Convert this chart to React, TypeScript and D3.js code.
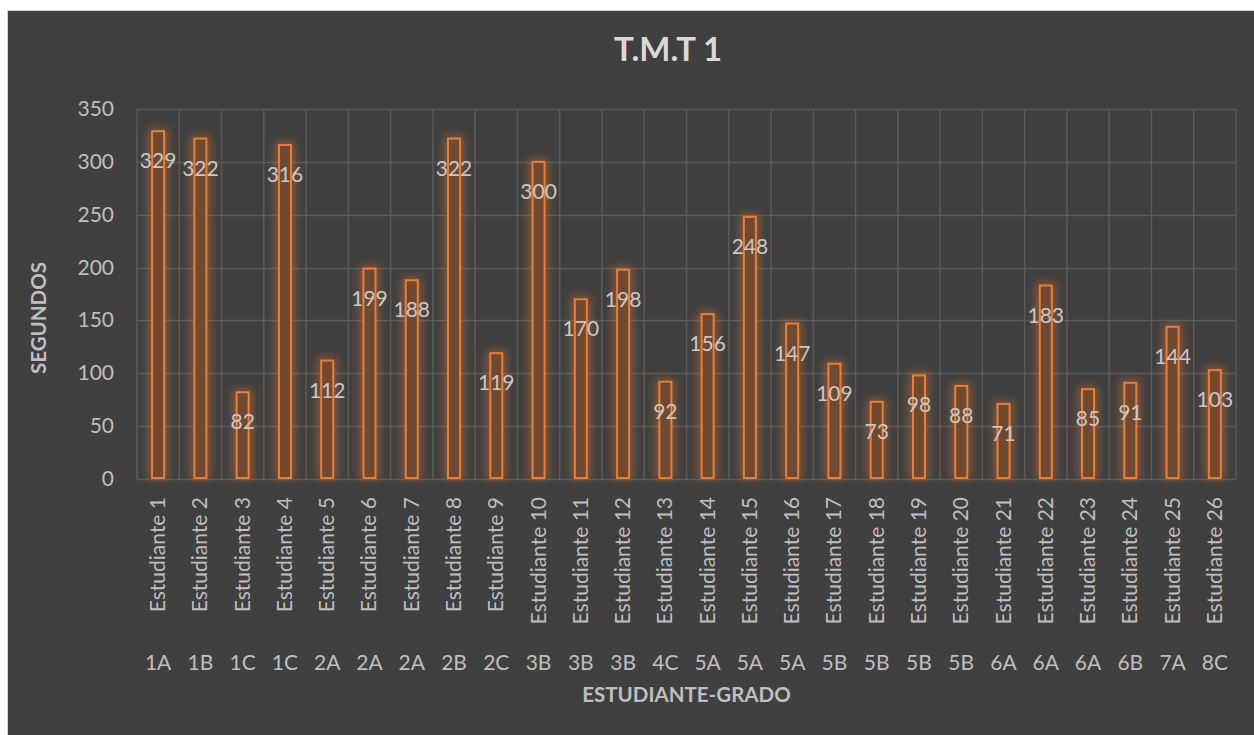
import * as React from 'react'
import { useEffect, useRef } from 'react'
import * as d3 from 'd3'

const estudiantes = Array.from({ length: 26 }, (_, i) => `Estudiante ${i + 1}`)
const grados = ['1A', '1B', '1C', '1C', '2A', '2A', '2A', '2B', '2C', '3B', '3B', '3B', '4C',
  '5A', '5A', '5A', '5B', '5B', '5B', '5B', '6A', '6A', '6A', '6B', '7A', '8C']
const segundos = [329, 322, 82, 316, 112, 199, 188, 322, 119, 300, 170, 198, 92,
  156, 248, 147, 109, 73, 98, 88, 71, 183, 85, 91, 144, 103]
const yTicks = [0, 50, 100, 150, 200, 250, 300, 350]

const width = 1254
const height = 735
const font = "Lato, 'Open Sans', sans-serif"

const App = () => {
  const chartRef = useRef<SVGSVGElement>(null)

  useEffect(() => {
    const svg = d3.select(chartRef.current)
    svg.selectAll('*').remove()

    const left = 137, right = 1236, top = 109, bottom = 479

    const x = d3.scaleBand<number>()
      .domain(d3.range(segundos.length))
      .range([left, right])
      .paddingInner(0)
      .paddingOuter(0)

    const y = d3.scaleLinear().domain([0, 350]).range([bottom, top])

    const defs = svg.append('defs')
    const glow = defs.append('filter').attr('id', 'glow')
      .attr('x', '-150%').attr('y', '-30%').attr('width', '400%').attr('height', '160%')
    glow.append('feGaussianBlur').attr('in', 'SourceGraphic').attr('stdDeviation', 4)

    // background
    svg.append('rect')
      .attr('x', 0).attr('y', 0).attr('width', width).attr('height', height)
      .attr('fill', '#ffffff')
    svg.append('rect')
      .attr('x', 7.5).attr('y', 10.5).attr('width', width).attr('height', height)
      .attr('fill', '#404040').attr('stroke', '#d0d0d0').attr('stroke-width', 1)

    // gridlines
    svg.append('g')
      .selectAll('line')
      .data(yTicks)
      .enter()
      .append('line')
      .attr('x1', left).attr('x2', right)
      .attr('y1', d => Math.round(y(d)) + 0.5).attr('y2', d => Math.round(y(d)) + 0.5)
      .attr('stroke', '#5a5a5a').attr('stroke-width', 1.5)

    svg.append('g')
      .selectAll('line')
      .data(d3.range(segundos.length + 1))
      .enter()
      .append('line')
      .attr('x1', d => (d < segundos.length ? x(d)! : right))
      .attr('x2', d => (d < segundos.length ? x(d)! : right))
      .attr('y1', top).attr('y2', bottom)
      .attr('stroke', '#5a5a5a').attr('stroke-width', 1.5)

    const barW = 12

    // glow
    svg.append('g')
      .selectAll('rect')
      .data(segundos)
      .enter()
      .append('rect')
      .attr('x', (d, i) => x(i)! + x.bandwidth() / 2 - barW / 2 - 4)
      .attr('y', d => y(d) - 3)
      .attr('width', barW + 8)
      .attr('height', d => bottom - y(d) + 3)
      .attr('fill', '#ed7d31')
      .attr('opacity', 0.4)
      .attr('filter', 'url(#glow)')

    // bars
    svg.append('g')
      .selectAll('rect')
      .data(segundos)
      .enter()
      .append('rect')
      .attr('x', (d, i) => x(i)! + x.bandwidth() / 2 - barW / 2)
      .attr('y', d => y(d))
      .attr('width', barW)
      .attr('height', d => bottom - y(d) - 1)
      .attr('fill', '#6e4a33')
      .attr('stroke', '#ed7d31')
      .attr('stroke-width', 2)

    // data labels
    svg.append('g')
      .selectAll('text')
      .data(segundos)
      .enter()
      .append('text')
      .attr('x', (d, i) => x(i)! + x.bandwidth() / 2)
      .attr('y', d => y(d) + 37)
      .attr('text-anchor', 'middle')
      .style('font-family', font)
      .style('font-size', '21px')
      .attr('fill', '#c8c8c8')
      .text(d => d)

    // y ticks
    svg.append('g')
      .selectAll('text')
      .data(yTicks)
      .enter()
      .append('text')
      .attr('x', 114)
      .attr('y', d => y(d) + 7)
      .attr('text-anchor', 'end')
      .style('font-family', font)
      .style('font-size', '21px')
      .attr('fill', '#bfbfbf')
      .text(d => d)

    // category labels
    svg.append('g')
      .selectAll('text')
      .data(estudiantes)
      .enter()
      .append('text')
      .attr('transform', (d, i) => `translate(${x(i)! + x.bandwidth() / 2 + 7}, 497) rotate(-90)`)
      .attr('text-anchor', 'end')
      .style('font-family', font)
      .style('font-size', '21px')
      .attr('fill', '#bfbfbf')
      .text(d => d)

    svg.append('g')
      .selectAll('text')
      .data(grados)
      .enter()
      .append('text')
      .attr('x', (d, i) => x(i)! + x.bandwidth() / 2)
      .attr('y', 670)
      .attr('text-anchor', 'middle')
      .style('font-family', font)
      .style('font-size', '21px')
      .attr('fill', '#bfbfbf')
      .text(d => d)

    // titles
    svg.append('text')
      .attr('x', 668).attr('y', 61)
      .attr('text-anchor', 'middle')
      .style('font-family', font)
      .style('font-size', '33px')
      .style('font-weight', 'bold')
      .attr('fill', '#d9d9d9')
      .text('T.M.T 1')

    svg.append('text')
      .attr('x', (left + right) / 2).attr('y', 702)
      .attr('text-anchor', 'middle')
      .style('font-family', font)
      .style('font-size', '20.5px')
      .style('font-weight', 'bold')
      .attr('fill', '#bfbfbf')
      .text('ESTUDIANTE-GRADO')

    svg.append('text')
      .attr('transform', 'translate(46, 318) rotate(-90)')
      .attr('text-anchor', 'middle')
      .style('font-family', font)
      .style('font-size', '20.5px')
      .style('font-weight', 'bold')
      .attr('fill', '#bfbfbf')
      .text('SEGUNDOS')
  }, [])

  return (
    <svg ref={chartRef} width={width} height={height}
      style={{ position: 'absolute', left: 0, top: 0, display: 'block' }}></svg>
  )
}

export default App
